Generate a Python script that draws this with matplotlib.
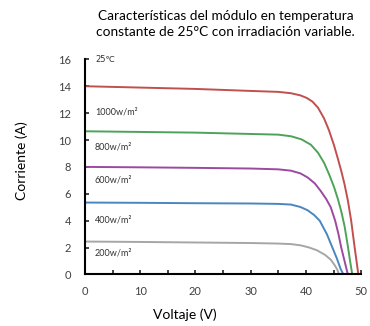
import matplotlib
matplotlib.use("Agg")
import matplotlib.pyplot as plt
from matplotlib.ticker import MultipleLocator

plt.rcParams['font.family'] = ['Lato', 'DejaVu Sans']

# Curvas I-V (voltaje en V, corriente en A)
v_1000 = [0, 10, 20, 30, 35, 37.3, 39, 40.2, 41.2, 42.2, 43.3, 44.2, 45.1, 45.8, 46.4, 47.0, 47.6, 48.2, 48.8, 49.5]
i_1000 = [14.0, 13.9, 13.8, 13.65, 13.58, 13.48, 13.32, 13.12, 12.85, 12.4, 11.6, 10.7, 9.6, 8.6, 7.7, 6.7, 5.5, 4.0, 2.1, 0]

v_800 = [0, 10, 20, 30, 35, 37.3, 39.2, 40.9, 42.2, 43.3, 44.2, 45.1, 45.8, 46.4, 47.0, 47.6, 48.0, 48.4]
i_800 = [10.65, 10.6, 10.55, 10.45, 10.4, 10.28, 10.05, 9.65, 9.05, 8.3, 7.45, 6.5, 5.6, 4.7, 3.6, 2.1, 1.0, 0]

v_600 = [0, 10, 20, 30, 35, 37.3, 39, 40.3, 41.6, 42.7, 43.7, 44.5, 45.3, 45.9, 46.4, 47.0, 47.6]
i_600 = [8.0, 7.97, 7.93, 7.88, 7.82, 7.72, 7.52, 7.22, 6.78, 6.2, 5.6, 5.0, 4.0, 3.0, 2.0, 1.0, 0]

v_400 = [0, 10, 20, 30, 35, 37.3, 39, 40.3, 41.5, 42.5, 43.8, 44.8, 45.6, 46.3, 46.8]
i_400 = [5.35, 5.33, 5.3, 5.28, 5.25, 5.2, 5.02, 4.78, 4.42, 4.0, 3.0, 2.0, 1.2, 0.4, 0]

v_200 = [0, 10, 20, 30, 35, 37.3, 39, 40.5, 42, 43.5, 44.5, 45.2, 45.7, 46.0]
i_200 = [2.45, 2.42, 2.38, 2.34, 2.3, 2.26, 2.17, 2.02, 1.8, 1.45, 1.1, 0.7, 0.35, 0]

labels = ['1000w/m²', '800w/m²', '600w/m²', '400w/m²', '200w/m²']
label_y = [12.05, 9.45, 7.0, 4.05, 1.6]
colors = ['#c0504d', '#4ea35a', '#9b4aa0', '#4a86c0', '#a6a6a6']

fig = plt.figure(figsize=(3.70, 3.26), dpi=100)
ax = fig.add_axes([0.2297, 0.158, 0.7463, 0.66])

curves = [(v_1000, i_1000), (v_800, i_800), (v_600, i_600), (v_400, i_400), (v_200, i_200)]
for (v, i), c in zip(curves, colors):
    ax.plot(v, i, color=c, lw=1.4, solid_joinstyle='round')

for lab, y in zip(labels, label_y):
    ax.text(1.8, y, lab, fontsize=6.5, va='center', ha='left', color='#333333')
ax.text(1.8, 16, '25℃', fontsize=6, va='center', ha='left', color='#333333',
        family=['DejaVu Sans'])

ax.set_xlim(0, 50)
ax.set_ylim(0, 16)
ax.xaxis.set_major_locator(MultipleLocator(10))
ax.xaxis.set_minor_locator(MultipleLocator(5))
ax.yaxis.set_major_locator(MultipleLocator(2))
ax.tick_params(which='both', direction='in', length=3, width=1.2, labelsize=8,
               color='#222222', labelcolor='#404040')
ax.tick_params(axis='x', pad=8)
ax.tick_params(axis='y', pad=10)
for s in ['top', 'right']:
    ax.spines[s].set_visible(False)
for s in ['left', 'bottom']:
    ax.spines[s].set_linewidth(1.5)
    ax.spines[s].set_clip_on(False)

ax.set_xlabel('Voltaje (V)', fontsize=10)
ax.set_ylabel('Corriente (A)', fontsize=10)
ax.xaxis.set_label_coords(0.362, -0.16)
ax.yaxis.set_label_coords(-0.205, 0.527)

fig.text(0.61, 0.926, 'Características del módulo en temperatura\nconstante de 25°C con irradiación variable.',
         ha='center', va='center', fontsize=9.8, linespacing=1.35)

fig.savefig('out.png', dpi=100)
